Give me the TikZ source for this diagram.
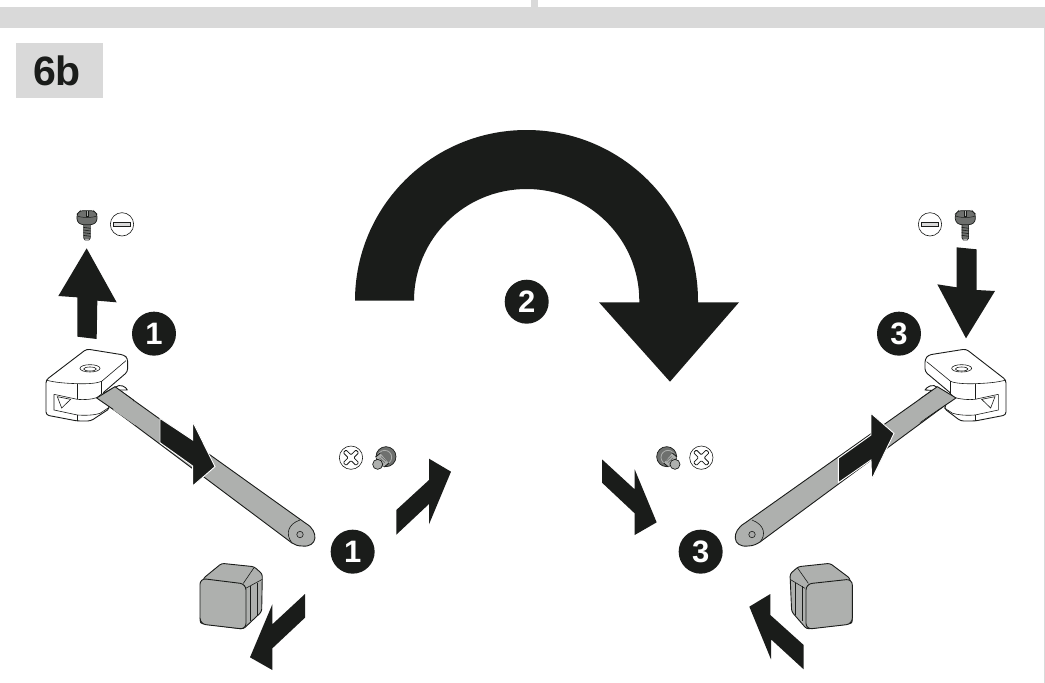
\documentclass[tikz,border=0pt]{standalone}
\usepackage{fontspec}
\usetikzlibrary{calc}
\setmainfont{Liberation Sans}
\definecolor{ink}{HTML}{1A1C1A}
\definecolor{band}{HTML}{D9D9D9}
\definecolor{metal}{HTML}{AEB0AE}
\definecolor{dark}{HTML}{6E706E}
\tikzset{
  z1/.style={shift={(0,190)},x=0.33333pt,y=-0.33333pt},
  z2/.style={shift={(180,430)},x=0.33333pt,y=-0.33333pt},
  z3/.style={shift={(720,190)},x=0.33333pt,y=-0.33333pt},
  z4/.style={shift={(590,430)},x=0.33333pt,y=-0.33333pt},
  solidarrow/.style={fill=ink,draw=none},
  onarm/.style={fill=ink,draw=white,line width=0.9pt,line join=miter},
  outline/.style={draw=ink,line width=0.9pt,line join=round},
  thin line/.style={draw=ink,line width=0.6pt},
  badge/.style={circle,fill=ink,text=white,minimum size=44pt,inner sep=0pt,font=\fontsize{31}{31}\selectfont\bfseries},
}
% slotted screw, axis at (x,y) in zoom units
\newcommand{\slotscrew}[2]{%
  \begin{scope}[shift={(#1,#2)}]
    \fill[dark] (-10,14) rectangle (10,60);
    \draw[ink,line width=0.6pt] (-10,14) -- (-10,56) -- (-6,62) -- (6,62) -- (10,56) -- (10,14);
    \foreach \yy in {24,32,40,48} \draw[ink,line width=0.6pt] (-11,\yy) -- (11,\yy+3);
    \filldraw[fill=dark,draw=ink,line width=0.7pt,rounded corners=2.5pt] (-30,-16) -- (-20,-26) -- (20,-26) -- (30,-16) -- (30,6) -- (18,16) -- (-18,16) -- (-30,6) -- cycle;
    \fill[metal] (-3,-26) rectangle (3,-8);
    \draw[ink,line width=0.5pt] (-3,-26) -- (-3,-8) -- (3,-8) -- (3,-26);
    \draw[ink,line width=0.5pt] (-29,-10) .. controls (-15,-4) and (15,-4) .. (29,-10);
  \end{scope}}
\newcommand{\slotmark}[2]{%
  \begin{scope}[shift={(#1,#2)}]
    \draw[ink,line width=0.6pt,fill=white] (0,0) circle (35);
    \draw[ink,line width=0.8pt,fill=band] (-25,-7) rectangle (25,7);
  \end{scope}}
\newcommand{\crossmark}[2]{%
  \begin{scope}[shift={(#1,#2)}]
    \draw[ink,line width=0.6pt,fill=white] (0,0) circle (35);
    \draw[ink,line width=0.8pt,rounded corners=1pt,rotate=45] (-6,-6) -- (-6,-27) -- (6,-27) -- (6,-6) -- (27,-6) -- (27,6) -- (6,6) -- (6,27) -- (-6,27) -- (-6,6) -- (-27,6) -- (-27,-6) -- cycle;
  \end{scope}}
% side-view screw; #3 = 1 points lower-left, -1 lower-right
\newcommand{\sidescrew}[3]{%
  \begin{scope}[shift={(#1,#2)},xscale=#3]
    \fill[dark,draw=ink,line width=0.7pt] (0,0) circle (30);
    \draw[metal,line width=0.8pt] (-4,2) circle (21);
    \draw[ink,line width=14pt,line cap=butt] (-4,4) -- (-18,16);
    \draw[metal,line width=12pt,line cap=butt] (-4,4) -- (-18,16);
    \foreach \t in {0.2,0.55,0.9}
      \draw[dark,line width=0.7pt] ($(-4,4)!\t!(-18,16)+(-8,-7)$) -- ($(-4,4)!\t!(-18,16)+(8,7)$);
    \fill[metal,draw=ink,line width=0.7pt] (-25,23) circle (15);
  \end{scope}}
\begin{document}
\begin{tikzpicture}[x=1pt,y=-1pt]
\useasboundingbox (0,0) rectangle (1045,683);
\fill[white] (0,0) rectangle (1045,683);
% frame
\fill[band] (0,6.5) rectangle (1045,27.5);
\fill[band] (531,0) rectangle (538,7);
\fill[band] (1043.5,27) rectangle (1045,683);
% title
\node[fill=band,minimum width=87pt,minimum height=55pt,inner sep=0pt,text=ink,font=\fontsize{41}{41}\selectfont\bfseries] (titlebox) at (59.5,70.5) {\kern-5pt 6b};

% big rotation arrow
\fill[ink] (355,300.7) arc[start angle=180,end angle=360,x radius=171.5,y radius=170.7]
  -- (698,302.3) -- (739,302.3) -- (670,381.7) -- (599,302.3) -- (639.3,302.3) -- (639.3,300.7)
  arc[start angle=360,end angle=180,x radius=112.65,y radius=111.7] -- cycle;
\node[badge] (b2) at (526.7,301.7) {2};

% left arm
\filldraw[fill=metal,outline] (115,387) -- (306,523.5) .. controls (319,531) and (318,548) .. (302,546) .. controls (298,546) and (295,545) .. (292,543) -- (97,397) -- cycle;
\draw[ink,line width=0.6pt] (300,520) .. controls (288,524) and (285,534) .. (292,543);
\draw[ink,line width=0.6pt,fill=dark!60] (300,534.5) circle (3.2);
% left clamp
\begin{scope}[z1]
  \filldraw[fill=white,outline] (345,592) .. controls (360,580) and (378,590) .. (382,600) -- (350,600) -- cycle;
  \filldraw[fill=white,outline,rounded corners=3pt] (138,570) -- (138,675) -- (232,693) -- (272,693) -- (330,655) -- (305,612) -- (383,545) -- (383,505) -- (372,495) -- (260,477) -- cycle;
  \draw[thin line] (138,570) .. controls (165,578) and (200,580) .. (232,581) .. controls (265,582) and (290,580) .. (305,574) -- (378,512);
  \draw[thin line] (232,581) -- (232,628);
  \draw[thin line] (305,574) -- (305,612);
  \draw[thin line] (162,613) -- (232,628) .. controls (255,630) and (275,628) .. (290,623) -- (305,612);
  \draw[thin line] (162,613) -- (162,660) -- (232,675) .. controls (260,677) and (285,675) .. (300,670) -- (326,653);
  \draw[thin line] (232,675) -- (232,693);
  \draw[thin line] (172,620) -- (212,628) -- (185,654) -- cycle;
  \draw[thin line] (270,535) ellipse (30 and 11);
  \draw[thin line] (270,537) ellipse (19 and 6);
  % arm overlaps clamp
  \filldraw[fill=metal,outline] (290,624) -- (345,590) -- (400,630) -- (400,700) -- cycle;
  \fill[metal] (340,660) -- (345,594) -- (405,637) -- (405,705) -- cycle;
  \draw[onarm] (480,685) -- (578,750) -- (578,695) -- (645,830) -- (578,888) -- (578,828) -- (480,758) -- cycle;
  \slotscrew{261}{88}
  \slotmark{366}{103}
  \fill[solidarrow] (260,175) -- (350,337) -- (292,332) -- (290,447) -- (232,440) -- (232,322) -- (175,318) -- cycle;
  \node[badge] (l1) at (462,431) {1};
\end{scope}

% lower left
\begin{scope}[z2]
  \filldraw[fill=metal,outline,rounded corners=2.5pt] (70,445) -- (125,400) -- (222,410) -- (247,432) -- (245,545) -- (190,597) -- (60,580) -- cycle;
  \filldraw[fill=metal,outline,rounded corners=6pt] (60,445) -- (198,462) -- (198,598) -- (60,582) -- cycle;
  \draw[thin line] (190,460) -- (222,413);
  \draw[thin line] (197,475) -- (247,448);
  \draw[thin line] (212,468) -- (212,572);
  \draw[thin line] (232,458) -- (232,555);
  \fill[solidarrow] (375,492) -- (277,583) -- (277,523) -- (210,682) -- (277,720) -- (277,655) -- (375,563) -- cycle;
  \fill[solidarrow] (649,240) -- (747,150) -- (747,86) -- (813,125) -- (747,283) -- (747,222) -- (649,314) -- cycle;
  \crossmark{513}{83}
  \sidescrew{618}{80}{1}
  \node[badge] (l1b) at (518,365) {1};
\end{scope}

% right arm
\filldraw[fill=metal,outline] (937,387) -- (745,523) .. controls (731,531) and (732,548) .. (748,546) .. controls (753,546) and (757,544) .. (760,542) -- (955,398) -- cycle;
\draw[ink,line width=0.6pt] (752,520) .. controls (765,525) and (766,535) .. (760,542);
\draw[ink,line width=0.6pt,fill=dark!60] (752,534.5) circle (3.2);
% right clamp
\begin{scope}[z3]
  \filldraw[fill=white,outline] (652,592) .. controls (640,580) and (620,590) .. (615,600) -- (650,602) -- cycle;
  \filldraw[fill=white,outline,rounded corners=3pt] (858,570) -- (858,675) -- (765,693) -- (722,693) -- (672,655) -- (695,612) -- (615,545) -- (615,508) -- (625,495) -- (738,477) -- cycle;
  \draw[thin line] (858,570) .. controls (830,578) and (795,580) .. (765,581) .. controls (735,582) and (705,580) .. (692,574) -- (620,515);
  \draw[thin line] (765,581) -- (765,628);
  \draw[thin line] (692,574) -- (692,612);
  \draw[thin line] (835,613) -- (765,628) .. controls (745,630) and (725,628) .. (705,623) -- (692,612);
  \draw[thin line] (835,613) -- (835,660) -- (765,675) .. controls (740,677) and (715,675) .. (698,670) -- (672,653);
  \draw[thin line] (765,675) -- (765,693);
  \draw[thin line] (825,620) -- (785,628) -- (812,654) -- cycle;
  \draw[thin line] (725,535) ellipse (30 and 11);
  \draw[thin line] (725,537) ellipse (19 and 6);
  \filldraw[fill=metal,outline] (708,624) -- (652,590) -- (600,627) -- (600,697) -- cycle;
  \fill[metal] (650,660) -- (652,594) -- (595,634) -- (595,700) -- cycle;
  \draw[onarm] (355,805) -- (453,735) -- (453,670) -- (522,730) -- (455,868) -- (453,810) -- (355,878) -- cycle;
  \slotscrew{736}{88}
  \slotmark{630}{103}
  \fill[solidarrow] (710,172) -- (770,178) -- (770,300) -- (825,303) -- (738,445) -- (652,283) -- (710,292) -- cycle;
  \node[badge] (r3) at (537,431) {3};
\end{scope}

% lower right
\begin{scope}[z4]
  \filldraw[fill=metal,outline,rounded corners=2.5pt] (780,445) -- (720,400) -- (625,410) -- (600,432) -- (605,545) -- (650,597) -- (787,580) -- cycle;
  \filldraw[fill=metal,outline,rounded corners=6pt] (787,447) -- (648,462) -- (648,598) -- (787,582) -- cycle;
  \draw[thin line] (655,460) -- (622,413);
  \draw[thin line] (645,475) -- (600,448);
  \draw[thin line] (636,468) -- (636,572);
  \draw[thin line] (615,458) -- (615,555);
  \fill[solidarrow] (36,88) -- (134,178) -- (134,118) -- (200,277) -- (134,315) -- (134,250) -- (36,158) -- cycle;
  \fill[solidarrow] (478,530) -- (541,492) -- (541,555) -- (641,645) -- (641,718) -- (543,628) -- (543,688) -- cycle;
  \crossmark{334}{83}
  \sidescrew{230}{80}{-1}
  \node[badge] (r3b) at (332,365) {3};
\end{scope}
\end{tikzpicture}
\end{document}
